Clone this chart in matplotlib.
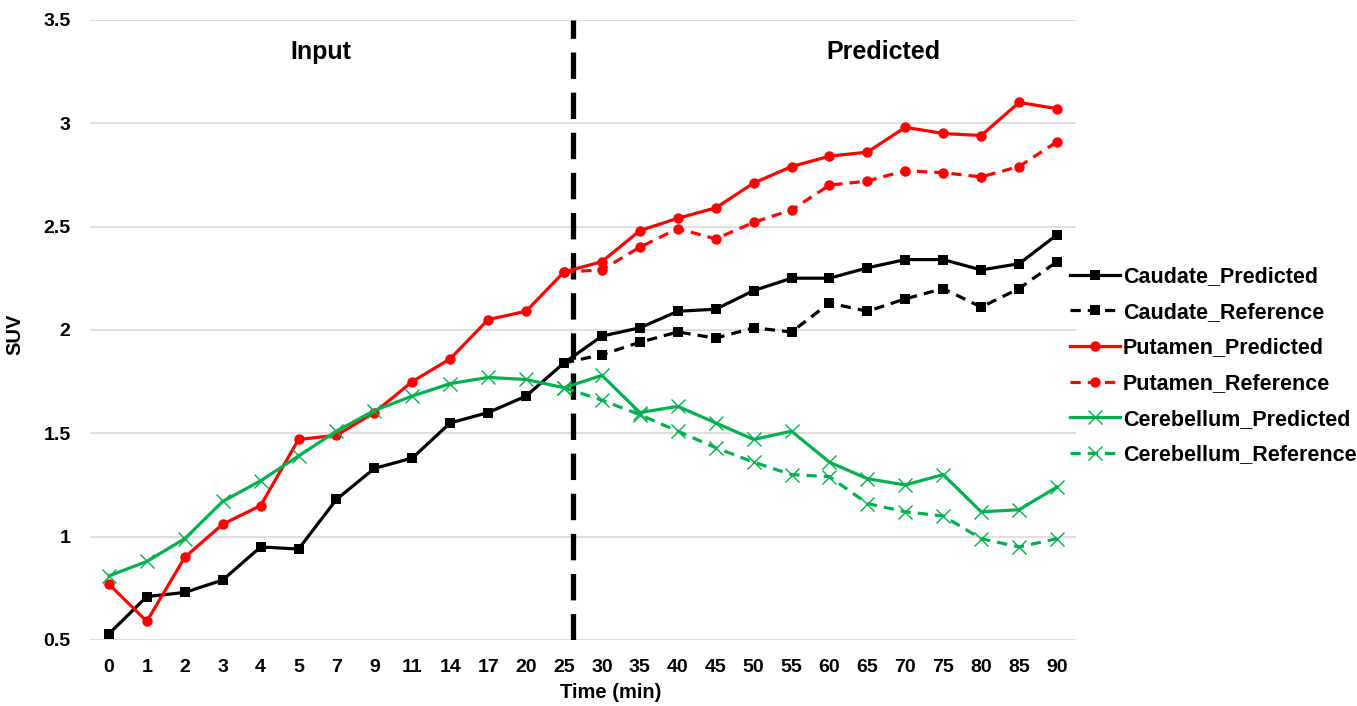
"""
SUV time-activity curves: input frames and predicted vs. reference frames.
"""

import numpy as np
from matplotlib import pyplot as plt

plt.rcParams['font.family'] = ['Liberation Sans', 'DejaVu Sans']
plt.rcParams['font.weight'] = 'bold'

# Visual elements
TICK_FONTSIZE = 14
LABEL_FONTSIZE = 14.5
LEGEND_FONTSIZE = 15.5
PHASE_FONTSIZE = 18
LINE_WIDTH = 2.3

RED = '#FF0000'
GREEN = '#00B050'
BLACK = '#000000'

# Frame times (min), shown as equally spaced categories
times = ['0', '1', '2', '3', '4', '5', '7', '9', '11', '14', '17', '20', '25',
         '30', '35', '40', '45', '50', '55', '60', '65', '70', '75', '80', '85', '90']

nan = np.nan

caudate_pred = [0.53, 0.71, 0.73, 0.79, 0.95, 0.94, 1.18, 1.33, 1.38, 1.55, 1.60, 1.68, 1.84,
                1.97, 2.01, 2.09, 2.10, 2.19, 2.25, 2.25, 2.30, 2.34, 2.34, 2.29, 2.32, 2.46]
caudate_ref = [nan] * 12 + [1.84,
               1.88, 1.94, 1.99, 1.96, 2.01, 1.99, 2.13, 2.09, 2.15, 2.20, 2.11, 2.20, 2.33]

putamen_pred = [0.77, 0.59, 0.90, 1.06, 1.15, 1.47, 1.49, 1.60, 1.75, 1.86, 2.05, 2.09, 2.28,
                2.33, 2.48, 2.54, 2.59, 2.71, 2.79, 2.84, 2.86, 2.98, 2.95, 2.94, 3.10, 3.07]
putamen_ref = [nan] * 12 + [2.28,
               2.29, 2.40, 2.49, 2.44, 2.52, 2.58, 2.70, 2.72, 2.77, 2.76, 2.74, 2.79, 2.91]

cereb_pred = [0.81, 0.88, 0.99, 1.17, 1.27, 1.39, 1.51, 1.61, 1.68, 1.74, 1.77, 1.76, 1.72,
              1.78, 1.60, 1.63, 1.55, 1.47, 1.51, 1.36, 1.28, 1.25, 1.30, 1.12, 1.13, 1.24]
cereb_ref = [nan] * 12 + [1.72,
             1.66, 1.59, 1.51, 1.43, 1.36, 1.30, 1.29, 1.16, 1.12, 1.10, 0.99, 0.95, 0.99]


def main():
    fig = plt.figure(figsize=(13.57, 7.06), dpi=100)
    axis = fig.add_axes([0.0663, 0.0935, 0.7266, 0.8785])

    x_vals = np.arange(len(times))

    series = [
        (caudate_pred, 'Caudate_Predicted', BLACK, 's', '-'),
        (caudate_ref, 'Caudate_Reference', BLACK, 's', '--'),
        (putamen_pred, 'Putamen_Predicted', RED, 'o', '-'),
        (putamen_ref, 'Putamen_Reference', RED, 'o', '--'),
        (cereb_pred, 'Cerebellum_Predicted', GREEN, 'x', '-'),
        (cereb_ref, 'Cerebellum_Reference', GREEN, 'x', '--'),
    ]

    for y_vals, label, color, marker, style in series:
        if marker == 'x':
            msize, mew = 9.5, 1.0
        else:
            msize, mew = 7.5, 0
        line, = axis.plot(x_vals, y_vals, linestyle=style, marker=marker,
                          markersize=msize, markeredgewidth=mew,
                          color=color, linewidth=LINE_WIDTH, label=label)
        if style == '--':
            line.set_dashes((3.2, 2.2))

    # Boundary between input frames and predicted frames
    axis.axvline(12.24, color=BLACK, linewidth=3.8, dashes=(5, 2.6), zorder=1)

    axis.text(5.6, 3.345, 'Input', fontsize=PHASE_FONTSIZE, fontweight='bold',
              ha='center', va='center')
    axis.text(20.42, 3.345, 'Predicted', fontsize=PHASE_FONTSIZE, fontweight='bold',
              ha='center', va='center')

    axis.set_xlim(-0.5, len(times) - 0.5)
    axis.set_ylim(0.5, 3.5)
    axis.set_yticks(np.arange(0.5, 3.51, 0.5))
    axis.set_yticklabels(['0.5', '1', '1.5', '2', '2.5', '3', '3.5'])
    axis.set_xticks(x_vals)
    axis.set_xticklabels(times)
    axis.tick_params(length=0, labelsize=TICK_FONTSIZE)
    axis.tick_params(axis='y', pad=14)
    axis.tick_params(axis='x', pad=14)
    for lbl in axis.get_xticklabels() + axis.get_yticklabels():
        lbl.set_fontweight('bold')

    axis.grid(axis='y', color='#D9D9D9', linewidth=1.2)
    axis.set_axisbelow(True)
    for spine in axis.spines.values():
        spine.set_visible(False)

    fig.text(611 / 1357, 1 - 693 / 706, 'Time (min)', fontsize=LABEL_FONTSIZE,
             fontweight='bold', ha='center', va='center')
    fig.text(15 / 1357, 1 - 334 / 706, 'SUV', fontsize=LABEL_FONTSIZE,
             fontweight='bold', ha='center', va='center', rotation=90)

    axis.legend(loc='center left', bbox_to_anchor=(0.994, 0.442), frameon=False,
                fontsize=LEGEND_FONTSIZE, handlelength=2.3, handletextpad=0.15,
                labelspacing=0.68, borderaxespad=0, borderpad=0)

    fig.savefig('out.png', dpi=100)


main()
